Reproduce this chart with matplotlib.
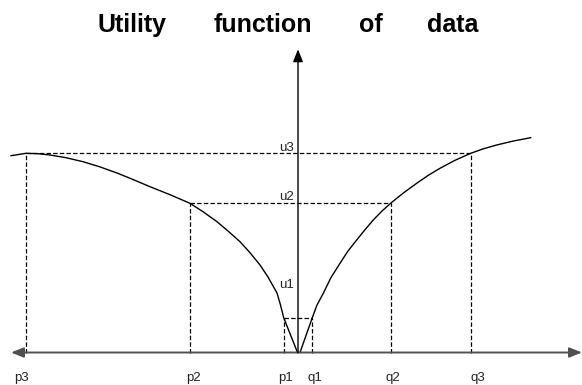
import numpy as np
import matplotlib.pyplot as plt

plt.rcParams['font.family'] = ['Liberation Sans', 'DejaVu Sans']
plt.rcParams['lines.scale_dashes'] = False

# points (origin = where the two axes cross)
left_x = [-287, -272, -260, -248, -232, -215, -198, -181, -165, -148, -128, -108,
          -95, -81, -70, -58, -48, -38, -30, -21, -17.5, -14.3, -0.5]
left_y = [196.8, 199.2, 198.8, 197.5, 194.8, 190.8, 185.6, 179.5, 173.0, 165.8, 157.8, 149.2,
          140.8, 130.8, 121.5, 110.8, 99.8, 87.5, 75.5, 59.5, 47.5, 34.8, 0]
right_x = [2, 14.3, 19, 25.3, 33, 42, 50, 58.7, 67, 75.3, 84, 93.3, 106, 118.7,
           130, 142, 157, 172.7, 185, 198.7, 215, 232.7]
right_y = [0, 34.8, 47.5, 59.2, 75, 89.2, 101.5, 112.5, 122.8, 132.5, 141.5, 149.8, 160, 169.2,
           177, 184.2, 192.2, 199.2, 203.6, 207.5, 211.4, 214.8]

p_vals = [-272, -108, -14.3]      # p3, p2, p1
q_vals = [14.3, 93.3, 172.7]      # q1, q2, q3
u_vals = [34.8, 149.5, 199.2]     # u1, u2, u3

x_names = ['p3', 'p2', 'p1', 'q1', 'q2', 'q3']
x_label_pos = [-276.5, -105, -12.5, 16.5, 95, 180]
u_names = ['u1', 'u2', 'u3']
u_label_pos = [64.5, 152.5, 201.5]

title_words = ['Utility', 'function', 'of', 'data']
title_x = [132, 262.5, 371, 453]   # word centres in pixels

fig = plt.figure(figsize=(5.82, 3.85), dpi=100)
ax = fig.add_axes([0, 0, 1, 1])
ax.set_xlim(-298, 284)
ax.set_ylim(-32.5, 352.5)
ax.axis('off')

# utility curve
ax.plot(left_x, left_y, color='black', lw=1.0)
ax.plot(right_x, right_y, color='black', lw=1.0)

dash = dict(color='black', lw=0.9, linestyle=(0, (3.2, 1.6)))
# vertical guides from the axis up to the level
levels = [u_vals[2], u_vals[1], u_vals[0]]
for p, u in zip(p_vals, levels):
    ax.plot([p, p], [0, u], **dash)
for q, u in zip(q_vals, u_vals):
    ax.plot([q, q], [0, u], **dash)
# horizontal guides
for p, q, u in zip(p_vals[::-1], q_vals, u_vals):
    ax.plot([p, q], [u, u], **dash)

# axes with arrows
arr = dict(arrowstyle='-|>,head_length=0.75,head_width=0.3', color='#505050',
           lw=1.4, shrinkA=0, shrinkB=0)
ax.annotate('', xy=(-287, 0), xytext=(0, 0), arrowprops=arr, annotation_clip=False)
ax.annotate('', xy=(284, 0), xytext=(0, 0), arrowprops=arr, annotation_clip=False)
arr_y = dict(arr, color='black', lw=1.0)
ax.annotate('', xy=(0, 303.2), xytext=(0, 0), arrowprops=arr_y)

# labels
for name, xp in zip(x_names, x_label_pos):
    ax.text(xp, -28.2, name, ha='center', va='baseline', fontsize=9.5, color='#222222')
for name, yp in zip(u_names, u_label_pos):
    ax.text(-4.5, yp, name, ha='right', va='baseline', fontsize=9.5, color='#222222')

for w, xp in zip(title_words, title_x):
    fig.text(xp / 582, 1 - 31.7 / 385, w, ha='center', va='baseline',
             fontsize=18, fontweight='bold')

plt.savefig('out.png', dpi=100)
